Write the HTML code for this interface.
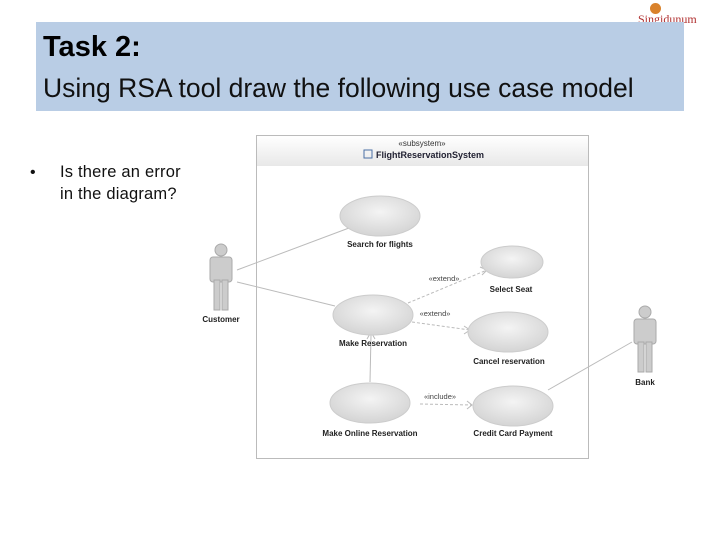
<!DOCTYPE html>
<html><head><style>
body{margin:0;width:720px;height:540px;background:#fff;position:relative;overflow:hidden;font-family:"Liberation Sans",sans-serif}
.banner{position:absolute;left:36px;top:22px;width:648px;height:89px;background:#b9cde5}
.t1{position:absolute;left:43px;top:31px;font-size:29px;font-weight:bold;color:#000}
.t2{position:absolute;left:43px;top:73px;font-size:26.5px;color:#111}
.bul{position:absolute;left:30px;top:162px;font-size:16px;line-height:21px;color:#111}
.bt{position:absolute;left:60px;top:161px;font-size:16.5px;line-height:22px;color:#111;letter-spacing:0.2px}
</style></head><body>
<div style="position:absolute;left:650px;top:3px;width:11px;height:11px;border-radius:50%;background:#d9822b"></div>
<div style="position:absolute;left:638px;top:12px;font-size:12px;color:#b03030;font-family:'Liberation Serif',serif">Singidunum</div>
<div class="banner"></div>
<div class="t1">Task 2:</div>
<div class="t2">Using RSA tool draw the following use case model</div>
<div class="bul">•</div>
<div class="bt">Is there an error<br>in the diagram?</div>
<svg width="720" height="540" style="position:absolute;left:0;top:0" font-family="Liberation Sans, sans-serif">
<defs>
<linearGradient id="h" x1="0" y1="0" x2="0" y2="1"><stop offset="0" stop-color="#fff"/><stop offset="1" stop-color="#e8e8e8"/></linearGradient>
<radialGradient id="e" cx="0.5" cy="0.4" r="0.6"><stop offset="0" stop-color="#f4f4f4"/><stop offset="1" stop-color="#d4d4d4"/></radialGradient>
</defs>
<rect x="256.5" y="135.5" width="332" height="323" fill="#fff" stroke="#bbb"/>
<rect x="257" y="136" width="331" height="30" fill="url(#h)"/>
<text x="422" y="146" font-size="8" text-anchor="middle" fill="#333">«subsystem»</text>
<rect x="364" y="150" width="8" height="8" fill="none" stroke="#4a6fa5"/>
<text x="376" y="158" font-size="9" font-weight="bold" fill="#223">FlightReservationSystem</text>
<g stroke="#bbb" fill="none">
<line x1="237" y1="270" x2="349" y2="228"/>
<line x1="237" y1="282" x2="335" y2="306"/>
<line x1="371" y1="335" x2="370" y2="382"/>
<polyline points="367,339 371,332 375,339"/>
<line x1="548" y1="390" x2="632" y2="342"/>
<g stroke-dasharray="3,2">
<line x1="408" y1="303" x2="487" y2="270"/>
<line x1="412" y1="322" x2="470" y2="330"/>
<line x1="420" y1="404" x2="472" y2="405"/>
</g>
<polyline points="480,267 487,270 482,275"/>
<polyline points="464,326 470,330 464,334"/>
<polyline points="467,401 472,405 467,409"/>
</g>
<g fill="url(#e)" stroke="#ccc">
<ellipse cx="380" cy="216" rx="40" ry="20"/>
<ellipse cx="512" cy="262" rx="31" ry="16"/>
<ellipse cx="373" cy="315" rx="40" ry="20"/>
<ellipse cx="508" cy="332" rx="40" ry="20"/>
<ellipse cx="370" cy="403" rx="40" ry="20"/>
<ellipse cx="513" cy="406" rx="40" ry="20"/>
</g>
<g font-size="8" font-weight="bold" fill="#222" text-anchor="middle">
<text x="380" y="247">Search for flights</text>
<text x="511" y="292">Select Seat</text>
<text x="373" y="346">Make Reservation</text>
<text x="509" y="364">Cancel reservation</text>
<text x="370" y="436">Make Online Reservation</text>
<text x="513" y="436">Credit Card Payment</text>
<text x="221" y="322">Customer</text>
<text x="645" y="385">Bank</text>
</g>
<g font-size="7.5" fill="#444" text-anchor="middle">
<text x="444" y="281">«extend»</text>
<text x="435" y="316">«extend»</text>
<text x="440" y="399">«include»</text>
</g>
<g fill="#ccc" stroke="#aaa">
<circle cx="221" cy="250" r="6"/>
<rect x="210" y="257" width="22" height="25" rx="3"/>
<rect x="214" y="280" width="6" height="30"/><rect x="222" y="280" width="6" height="30"/>
<circle cx="645" cy="312" r="6"/>
<rect x="634" y="319" width="22" height="25" rx="3"/>
<rect x="638" y="342" width="6" height="30"/><rect x="646" y="342" width="6" height="30"/>
</g>
</svg>
</body></html>
